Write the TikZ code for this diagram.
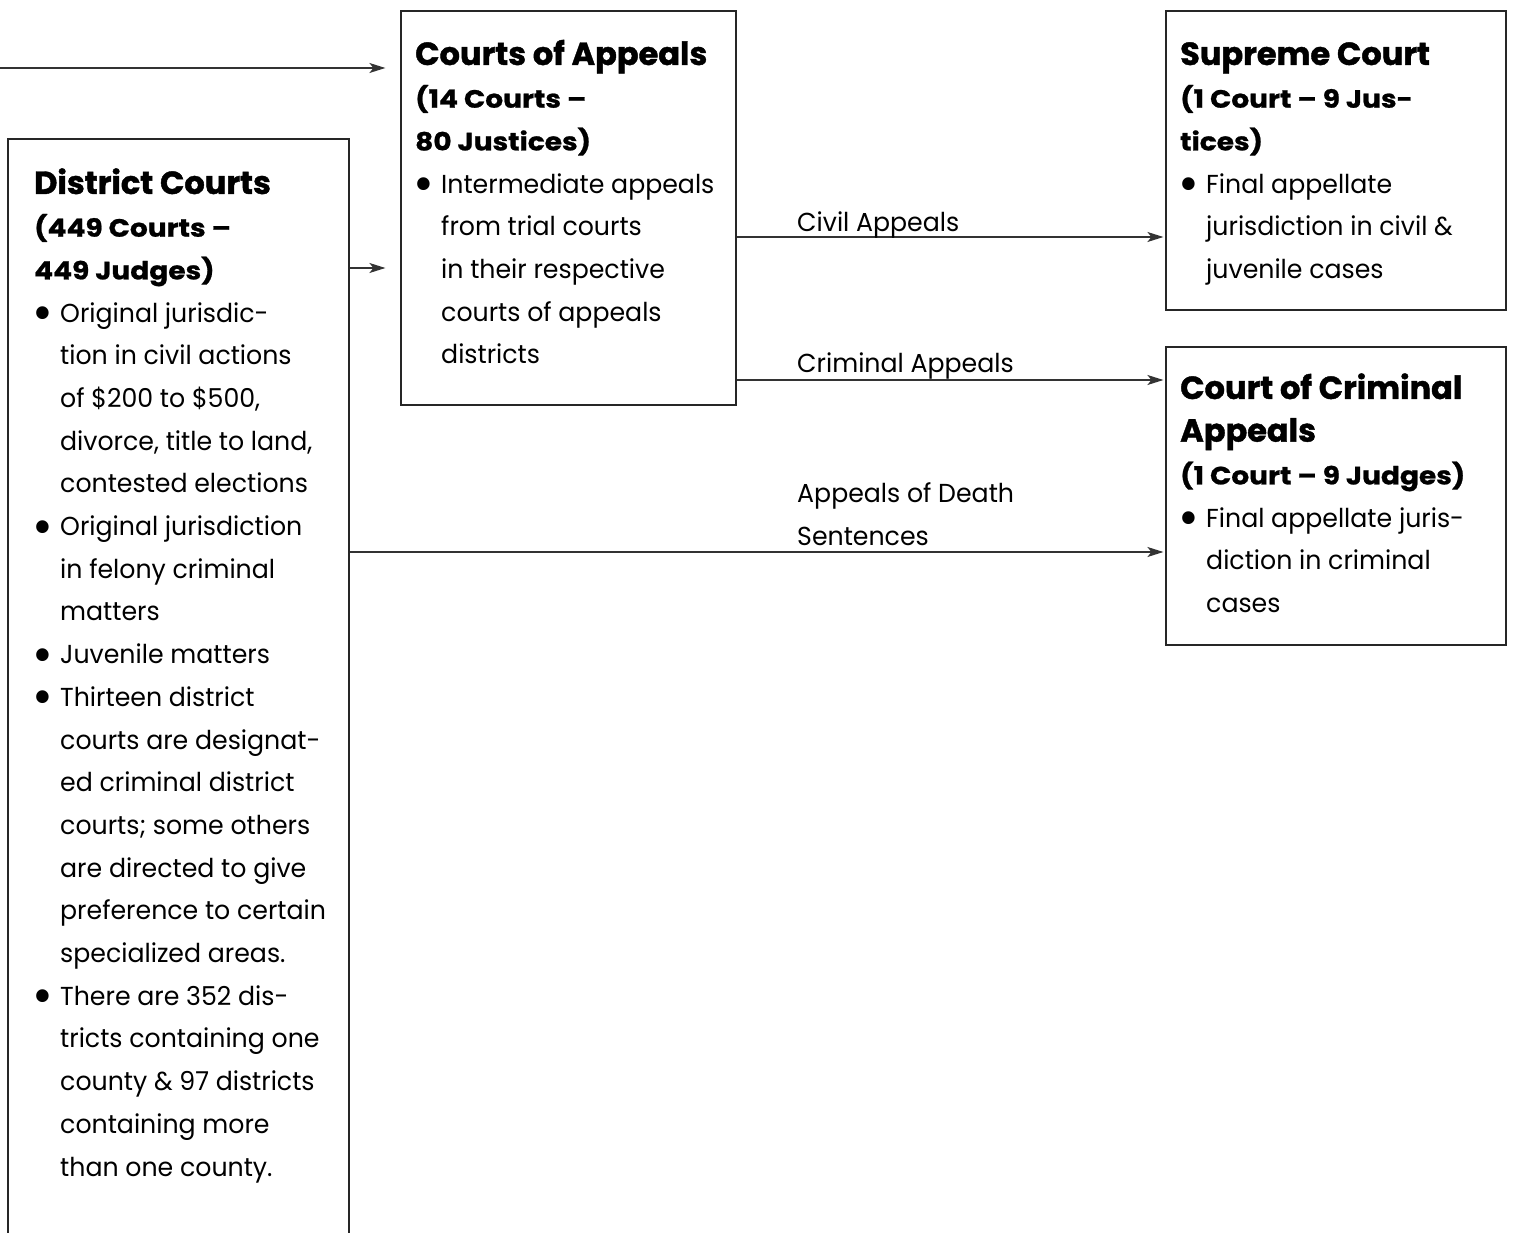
\documentclass[tikz,border=0pt]{standalone}
\usepackage{fontspec}
\setmainfont{Poppins}[FakeStretch=0.97]
\newfontfamily\titlef{Poppins}[FakeStretch=1.0,BoldFeatures={FakeBold=1.3}]
\newfontfamily\subf{Poppins}[FakeStretch=1.12,BoldFeatures={FakeBold=0.9}]
\usetikzlibrary{arrows.meta}
\newcommand\hd[1]{{\titlef\fontsize{32}{42.7}\selectfont\bfseries #1}}
\newcommand\subh[1]{{\subf\fontsize{25}{42.7}\selectfont\bfseries #1}}
\newcommand\bul{\makebox[26pt][l]{\hspace*{-2pt}\smash{\raisebox{-8.5pt}{\scalebox{2}{\textbullet}}}}}
\newcommand\ind{\hspace*{26pt}}
\newcommand\txt[1]{\parbox[t]{420pt}{\raggedright\fontsize{26}{42.7}\selectfont #1}}
\begin{document}
\begin{tikzpicture}[x=1pt,y=-1pt,
  box/.style={draw=black!85,line width=1.2pt,inner sep=0pt},
  arr/.style={draw=black!80,line width=1.6pt,-{Stealth[length=16pt,width=10pt,inset=4pt]}},
  body/.style={anchor=base west,inner sep=0pt,font=\fontsize{26}{42.7}\selectfont}]
\useasboundingbox (0,0) rectangle (1513,1233);
% boxes
\node[box,minimum width=341pt,minimum height=1110pt] (dist) at (178.5,694) {};
\node[box,minimum width=335pt,minimum height=394pt] (app) at (568.5,208) {};
\node[box,minimum width=340pt,minimum height=299pt] (sup) at (1336,160.5) {};
\node[box,minimum width=340pt,minimum height=298pt] (cca) at (1336,496) {};
% texts
\node[body] (distT) at (34,194) {\txt{\hd{District Courts}\\
\subh{(449 Courts –}\\
\subh{449 Judges)}\\
\bul Original jurisdic-\\
\ind tion in civil actions\\
\ind of \$200 to \$500,\\
\ind divorce, title to land,\\
\ind contested elections\\
\bul Original jurisdiction\\
\ind in felony criminal\\
\ind matters\\
\bul Juvenile matters\\
\bul Thirteen district\\
\ind courts are designat-\\
\ind ed criminal district\\
\ind courts; some others\\
\ind are directed to give\\
\ind preference to certain\\
\ind specialized areas.\\
\bul There are 352 dis-\\
\ind tricts containing one\\
\ind county \& 97 districts\\
\ind containing more\\
\ind than one county.}};
\node[body] (appT) at (415,65) {\txt{\hd{Courts of Appeals}\\
\subh{(14 Courts –}\\
\subh{80 Justices)}\\
\bul Intermediate appeals\\
\ind from trial courts\\
\ind in their respective\\
\ind courts of appeals\\
\ind districts}};
\node[body] (supT) at (1180,65) {\txt{\hd{Supreme Court}\\
\subh{(1 Court – 9 Jus-}\\
\subh{tices)}\\
\bul Final appellate\\
\ind jurisdiction in civil \&\\
\ind juvenile cases}};
\node[body] (ccaT) at (1180,399) {\txt{\hd{Court of Criminal}\\
\hd{Appeals}\\
\subh{(1 Court – 9 Judges)}\\
\bul Final appellate juris-\\
\ind diction in criminal\\
\ind cases}};
% connectors
\coordinate (src) at (0,68);
\coordinate (y1) at (0,268);
\coordinate (y2) at (0,237);
\coordinate (y3) at (0,380);
\coordinate (y4) at (0,552);
\draw[arr,shorten >=15pt] (src) -- (app.west |- src);
\draw[arr,shorten >=15pt] (dist.east |- y1) -- (app.west |- y1);
\draw[arr,shorten >=2pt] (app.east |- y2) -- (sup.west |- y2);
\draw[arr,shorten >=2pt] (app.east |- y3) -- (cca.west |- y3);
\draw[arr,shorten >=2pt] (dist.east |- y4) -- (cca.west |- y4);
% labels
\node[body] (l1) at (797,232) {Civil Appeals};
\node[body] (l2) at (797,373) {Criminal Appeals};
\node[body] (l3) at (797,502) {Appeals of Death};
\node[body] (l4) at (797,545) {Sentences};
\end{tikzpicture}
\end{document}
